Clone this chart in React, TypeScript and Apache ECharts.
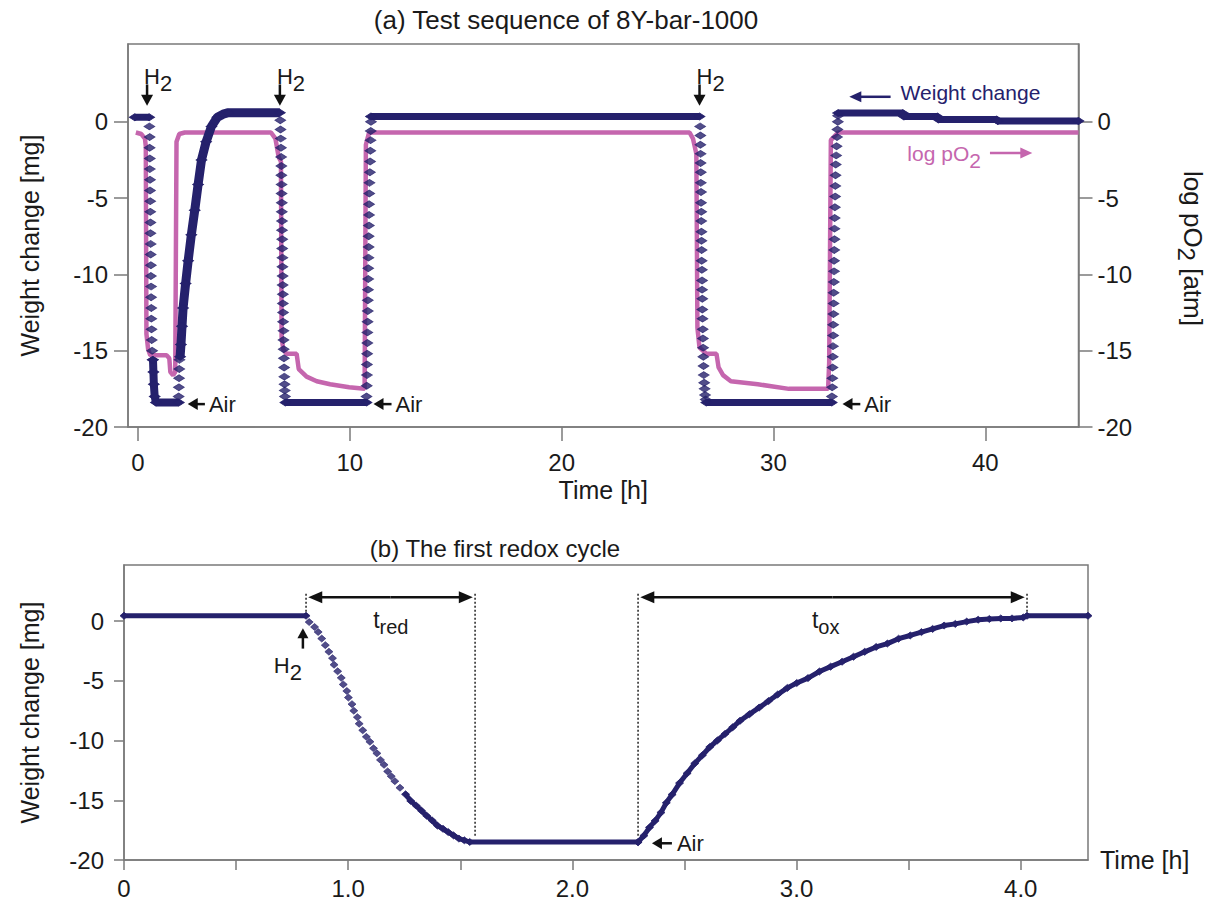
import React, { useEffect, useRef } from 'react';
import * as echarts from 'echarts';

const NAVY = '#25216c';
const PINK = '#c566ae';
const AXIS = '#7a7a7a';
const TXT = '#1a1a1a';
const FONT = '"Liberation Sans", Arial, sans-serif';

// ---------- (a) Test sequence ----------
const topXTicks = [0, 10, 20, 30, 40];
const weightTicks = [-20, -15, -10, -5, 0];

// weight change [mg] vs time [h] – dense parts (thick band)
const topWStart = [[-0.15, 0.3], [0.53, 0.3]];
const topWLow1 = [[0.71, -15.6], [0.73, -16.4], [0.75, -17.2], [0.79, -18.0], [0.85, -18.4], [1.93, -18.4]];
const topWRise1 = [[1.99, -15.4], [2.03, -14.6], [2.08, -13.4], [2.13, -12.2], [2.25, -10.6], [2.37, -9.1], [2.52, -7.4], [2.68, -5.8], [2.84, -4.1], [3.0, -2.5], [3.22, -1.3], [3.47, -0.3], [3.75, 0.3], [4.02, 0.5], [4.27, 0.6], [6.7, 0.6]];
const topWLow2 = [[6.96, -18.4], [10.79, -18.4]];
const topWMid = [[11.0, 0.35], [26.51, 0.35]];
const topWLow3 = [[26.83, -18.4], [32.75, -18.4]];
const topWEnd = [[33.05, 0.57], [36.11, 0.57], [36.16, 0.35], [37.74, 0.35], [37.79, 0.15], [40.53, 0.15], [40.59, 0.05], [44.4, 0.05]];

// weight change – separate diamonds in the fast steps
const topWDrop1 = [[0.54, -0.3], [0.55, -1.0], [0.55, -1.7], [0.56, -2.4], [0.56, -3.1], [0.57, -3.8], [0.57, -4.5], [0.58, -5.2], [0.58, -5.9], [0.59, -6.6], [0.59, -7.3], [0.6, -8.0], [0.6, -8.7], [0.61, -9.4], [0.61, -10.1], [0.62, -10.8], [0.62, -11.5], [0.63, -12.2], [0.63, -12.9], [0.64, -13.6], [0.65, -14.3], [0.67, -15.0], [0.69, -15.6]];
const topWRise1Dots = [[1.92, -18.0], [1.93, -17.4], [1.94, -16.8], [1.95, -16.2], [1.96, -15.6]];
const topWDrop2 = [[6.72, 0.1], [6.73, -0.5], [6.74, -1.1], [6.75, -1.7], [6.76, -2.3], [6.77, -2.9], [6.77, -3.5], [6.78, -4.1], [6.78, -4.7], [6.79, -5.3], [6.79, -5.9], [6.8, -6.5], [6.8, -7.1], [6.81, -7.7], [6.81, -8.3], [6.82, -8.9], [6.82, -9.5], [6.83, -10.1], [6.83, -10.7], [6.84, -11.3], [6.84, -11.9], [6.85, -12.5], [6.85, -13.1], [6.87, -13.7], [6.87, -14.3], [6.88, -14.9], [6.89, -15.5], [6.9, -16.1], [6.91, -16.7], [6.92, -17.2], [6.93, -17.6], [6.94, -18.0]];
const topWRise2 = [[10.79, -18.0], [10.8, -17.3], [10.81, -16.6], [10.81, -15.9], [10.82, -15.2], [10.83, -14.5], [10.83, -13.8], [10.84, -13.1], [10.85, -12.4], [10.85, -11.7], [10.86, -11.0], [10.87, -10.3], [10.87, -9.6], [10.88, -8.9], [10.89, -8.2], [10.89, -7.5], [10.9, -6.8], [10.91, -6.1], [10.91, -5.4], [10.92, -4.7], [10.93, -4.0], [10.95, -3.3], [10.96, -2.6], [10.97, -1.9], [10.98, -1.2], [10.99, -0.6], [11.0, 0.0]];
const topWDrop3 = [[26.54, -0.3], [26.55, -0.9], [26.55, -1.5], [26.56, -2.1], [26.56, -2.7], [26.57, -3.3], [26.57, -4.0], [26.58, -4.6], [26.58, -5.3], [26.59, -5.9], [26.59, -6.5], [26.6, -7.2], [26.6, -7.8], [26.61, -8.4], [26.61, -9.1], [26.62, -9.7], [26.63, -10.4], [26.63, -11.0], [26.64, -11.6], [26.64, -12.3], [26.65, -12.9], [26.66, -13.6], [26.67, -14.2], [26.68, -14.8], [26.69, -15.4], [26.7, -16.0], [26.71, -16.6], [26.73, -17.1], [26.75, -17.5], [26.77, -17.9], [26.8, -18.2]];
const topWRise3 = [[32.76, -18.0], [32.77, -17.4], [32.78, -16.8], [32.79, -16.1], [32.8, -15.4], [32.81, -14.7], [32.82, -14.0], [32.82, -13.3], [32.83, -12.6], [32.84, -11.9], [32.84, -11.2], [32.85, -10.5], [32.86, -9.8], [32.86, -9.1], [32.87, -8.4], [32.88, -7.7], [32.88, -7.0], [32.89, -6.3], [32.9, -5.6], [32.91, -4.9], [32.92, -4.2], [32.93, -3.5], [32.94, -2.8], [32.96, -2.2], [32.98, -1.6], [33.0, -1.0], [33.02, -0.5], [33.04, 0.0], [33.05, 0.4]];

// log pO2 [atm] vs time [h]
const topLogPO2 = [[-0.1, -0.7], [0.16, -0.8], [0.33, -1.1], [0.37, -1.6], [0.4, -13.9], [0.48, -14.9], [0.58, -15.3], [1.35, -15.3], [1.48, -15.5], [1.53, -16.4], [1.66, -16.6], [1.76, -16.4], [1.82, -1.3], [1.95, -0.8], [2.21, -0.7], [6.28, -0.7], [6.49, -1.1], [6.64, -2.3], [6.75, -2.6], [6.78, -14.1], [6.86, -14.9], [7.01, -15.2], [7.49, -15.2], [7.59, -16.2], [7.96, -16.7], [8.44, -17.0], [9.07, -17.2], [9.97, -17.4], [10.7, -17.5], [10.76, -1.5], [10.91, -0.7], [26.04, -0.7], [26.2, -1.1], [26.36, -2.1], [26.41, -13.5], [26.51, -14.8], [26.83, -15.2], [27.31, -15.2], [27.41, -16.1], [27.62, -16.6], [27.99, -17.0], [29.26, -17.2], [30.73, -17.5], [32.58, -17.5], [32.63, -15.8], [32.71, -1.2], [33.05, -0.7], [44.4, -0.7]];

// annotations (a), in data units
const topH2Times = [0.43, 6.7, 26.51];
const topAirArrows = [[2.35, 3.16], [11.12, 11.97], [33.26, 34.1]]; // head, tail
const weightLegendArrow = [33.58, 35.53, 1.64];
const logLegend = [36.32, 40.22, 42.22, -2.05];

// ---------- (b) The first redox cycle ----------
const botXLabelValues = [0, 1, 2, 3, 4];
const botXTickValues = [0, 0.5, 1, 1.5, 2, 2.5, 3, 3.5, 4];
const botWStart = [[0, 0.45], [0.812, 0.45]];
const botWRedDots = [[0.826, -0.08], [0.85, -0.49], [0.866, -0.91], [0.882, -1.46], [0.898, -2.01], [0.914, -2.56], [0.93, -3.1], [0.937, -3.65], [0.953, -4.2], [0.969, -4.75], [0.978, -5.3], [0.994, -5.85], [1.001, -6.4], [1.017, -6.95], [1.025, -7.5], [1.041, -8.04], [1.049, -8.59], [1.065, -9.14], [1.081, -9.69], [1.097, -10.1], [1.113, -10.65], [1.128, -11.07], [1.144, -11.62], [1.16, -12.03], [1.176, -12.58], [1.192, -12.99], [1.208, -13.4], [1.231, -13.95]];
const botWRedBand = [[1.256, -14.5], [1.279, -15.05], [1.304, -15.46], [1.327, -15.87], [1.35, -16.29], [1.375, -16.7], [1.398, -17.12], [1.423, -17.39], [1.446, -17.66], [1.47, -17.94], [1.494, -18.21], [1.518, -18.35], [1.542, -18.49], [2.293, -18.5]];
const botWOx = [[2.293, -18.51], [2.319, -17.96], [2.344, -17.27], [2.369, -16.72], [2.395, -16.03], [2.419, -15.21], [2.445, -14.52], [2.478, -13.56], [2.512, -12.74], [2.546, -11.91], [2.58, -11.23], [2.613, -10.54], [2.647, -9.99], [2.681, -9.44], [2.715, -8.89], [2.748, -8.34], [2.79, -7.79], [2.833, -7.24], [2.875, -6.69], [2.916, -6.14], [2.959, -5.59], [3.001, -5.18], [3.051, -4.77], [3.102, -4.22], [3.152, -3.81], [3.203, -3.4], [3.254, -2.98], [3.304, -2.57], [3.355, -2.16], [3.405, -1.88], [3.455, -1.47], [3.507, -1.2], [3.557, -0.92], [3.607, -0.65], [3.658, -0.37], [3.708, -0.23], [3.759, -0.04], [3.81, 0.12], [3.86, 0.18], [3.911, 0.23], [3.961, 0.23], [4.011, 0.31], [4.028, 0.45], [4.3, 0.45]];

// annotations (b)
const botDotted = [[0.812, 2.3, 0.6], [1.566, 2.3, -18.1], [2.293, 2.3, -18.1], [4.028, 2.3, 0.6]]; // t, top, bottom
const botSpans = [
  { from: 0.822, to: 1.556, w: 2.0, main: 't', sub: 'red', labelT: 1.19 },
  { from: 2.303, to: 4.018, w: 2.0, main: 't', sub: 'ox', labelT: 3.13 },
];
const botH2 = [0.798, -0.6, -2.3];
const botAir = [2.355, 2.444, -18.6];

const axisLine = { show: true, onZero: false, lineStyle: { color: AXIS, width: 1.5 } };
const tickStyle = { color: AXIS, width: 1.5 };
const labelStyle = { color: TXT, fontFamily: FONT, fontSize: 24 };
const nameStyle = { color: TXT, fontFamily: FONT, fontSize: 25 };

function dots(data: number[][], xi: number, yi: number, size: number[]) {
  return { type: 'scatter', xAxisIndex: xi, yAxisIndex: yi, data, symbol: 'diamond', symbolSize: size, itemStyle: { color: NAVY, borderColor: NAVY, borderWidth: 0.8 }, silent: true, z: 4 };
}
function band(data: number[][], xi: number, yi: number, size: number[], width: number) {
  return { type: 'line', xAxisIndex: xi, yAxisIndex: yi, data, symbol: 'diamond', symbolSize: size, showSymbol: true, showAllSymbol: true, lineStyle: { color: NAVY, width }, itemStyle: { color: NAVY, borderColor: NAVY, borderWidth: 0.8 }, silent: true, z: 4 };
}

function buildOption() {
  const topSz = [11, 7];
  const botSz = [8, 7];
  return {
    animation: false,
    backgroundColor: '#ffffff',
    grid: [
      { left: 128, top: 44, width: 954, height: 383, show: true, borderColor: AXIS, borderWidth: 1.5, backgroundColor: 'transparent' },
      { left: 124, top: 565, width: 964, height: 295, show: true, borderColor: AXIS, borderWidth: 1.5, backgroundColor: 'transparent' },
    ],
    xAxis: [
      {
        gridIndex: 0, type: 'value', min: -0.47, max: 44.4,
        axisLine, axisTick: { show: true, length: 14, customValues: topXTicks, lineStyle: tickStyle },
        axisLabel: { ...labelStyle, customValues: topXTicks, margin: 23 },
        splitLine: { show: false },
        name: 'Time [h]', nameLocation: 'middle', nameGap: 50, nameTextStyle: nameStyle,
      },
      {
        gridIndex: 1, type: 'value', min: 0, max: 4.3, interval: 0.5,
        axisLine, axisTick: { show: true, length: 10, customValues: botXTickValues, lineStyle: tickStyle },
        axisLabel: { ...labelStyle, customValues: botXLabelValues, margin: 16, formatter: (v: number) => (v === 0 ? '0' : v.toFixed(1)) },
        splitLine: { show: false },
        name: 'Time [h]', nameLocation: 'end', nameGap: 12, nameTextStyle: nameStyle,
      },
    ],
    yAxis: [
      {
        gridIndex: 0, type: 'value', min: -20, max: 5.1, position: 'left',
        axisLine, axisTick: { show: true, length: 14, customValues: weightTicks, lineStyle: tickStyle },
        axisLabel: { ...labelStyle, customValues: weightTicks, margin: 20 },
        splitLine: { show: false },
        name: 'Weight change [mg]', nameLocation: 'middle', nameGap: 86, nameRotate: 90,
        nameTextStyle: { ...nameStyle, padding: [0, 20, 0, 0] },
      },
      {
        gridIndex: 0, type: 'value', min: -20, max: 5.1, position: 'right',
        axisLine, axisTick: { show: true, length: 14, customValues: weightTicks, lineStyle: tickStyle },
        axisLabel: { ...labelStyle, customValues: weightTicks, margin: 19 },
        splitLine: { show: false },
        name: '{a|log pO}{s|2}{a| [atm]}', nameLocation: 'middle', nameGap: 96, nameRotate: -90,
        nameTextStyle: { ...nameStyle, padding: [0, 0, 0, 26], rich: { a: { fontFamily: FONT, fontSize: 26, color: TXT }, s: { fontFamily: FONT, fontSize: 24, color: TXT, padding: [13, 0, 0, 0] } } },
      },
      {
        gridIndex: 1, type: 'value', min: -20, max: 4.7, position: 'left',
        axisLine, axisTick: { show: true, length: 10, customValues: weightTicks, lineStyle: tickStyle },
        axisLabel: { ...labelStyle, customValues: weightTicks, margin: 20 },
        splitLine: { show: false },
        name: 'Weight change [mg]', nameLocation: 'middle', nameGap: 82, nameRotate: 90, nameTextStyle: nameStyle,
      },
    ],
    series: [
      { type: 'line', name: 'log pO2', xAxisIndex: 0, yAxisIndex: 1, data: topLogPO2, symbol: 'none', lineStyle: { color: PINK, width: 4.5 }, silent: true, z: 3 },
      band(topWStart, 0, 0, topSz, 7),
      dots(topWDrop1, 0, 0, topSz),
      band(topWLow1, 0, 0, topSz, 8),
      dots(topWRise1Dots, 0, 0, topSz),
      band(topWRise1, 0, 0, topSz, 9),
      dots(topWDrop2, 0, 0, topSz),
      band(topWLow2, 0, 0, topSz, 7),
      dots(topWRise2, 0, 0, topSz),
      band(topWMid, 0, 0, topSz, 7),
      dots(topWDrop3, 0, 0, topSz),
      band(topWLow3, 0, 0, topSz, 7),
      dots(topWRise3, 0, 0, topSz),
      band(topWEnd, 0, 0, topSz, 7),
      band(botWStart, 1, 2, botSz, 5),
      dots(botWRedDots, 1, 2, botSz),
      band(botWRedBand, 1, 2, botSz, 5),
      band(botWOx, 1, 2, botSz, 5),
    ],
  };
}

function arrowEls(x1: number, y1: number, x2: number, y2: number, color: string, head = 12, hw = 5.5, width = 2) {
  const dx = x2 - x1, dy = y2 - y1;
  const len = Math.hypot(dx, dy) || 1;
  const ux = dx / len, uy = dy / len;
  const bx = x2 - ux * head, by = y2 - uy * head;
  const nx = -uy, ny = ux;
  return [
    { type: 'line', shape: { x1, y1, x2: bx + ux, y2: by + uy }, style: { stroke: color, lineWidth: width }, silent: true, z: 10 },
    { type: 'polygon', shape: { points: [[x2, y2], [bx + nx * hw, by + ny * hw], [bx - nx * hw, by - ny * hw]] }, style: { fill: color }, silent: true, z: 10 },
  ];
}

function buildGraphic(chart: any) {
  const P0 = (t: number, w: number) => chart.convertToPixel({ xAxisIndex: 0, yAxisIndex: 0 }, [t, w]);
  const P1 = (t: number, w: number) => chart.convertToPixel({ xAxisIndex: 1, yAxisIndex: 2 }, [t, w]);
  const g: any[] = [];
  const txt = (x: number, y: number, text: string, opts: any = {}) => ({
    type: 'text', x, y, silent: true, z: 11,
    style: { text, fill: TXT, fontFamily: FONT, fontSize: 21, textAlign: 'left', textVerticalAlign: 'middle', ...opts },
  });
  const subRich = (size: number, sub: number, pad: number, color = TXT) => ({
    n: { fontFamily: FONT, fontSize: size, fill: color, color },
    s: { fontFamily: FONT, fontSize: sub, fill: color, color, padding: [pad, 0, 0, 0] },
  });

  // titles
  g.push(txt(566, 20, '(a) Test sequence of 8Y-bar-1000', { textAlign: 'center', fontSize: 26 }));
  g.push(txt(495, 548, '(b) The first redox cycle', { textAlign: 'center', fontSize: 24 }));

  // (a) H2 arrows
  topH2Times.forEach((t) => {
    const [x, yTail] = P0(t, 2.45);
    const [, yHead] = P0(t, 1.05);
    g.push(...arrowEls(x, yTail, x, yHead, '#111', 11, 6, 2.5));
    g.push(txt(x - 3, yTail - 8, '{n|H}{s|2}', { rich: subRich(22, 22, 14) }));
  });
  // (a) Air arrows
  topAirArrows.forEach(([head, tail]) => {
    const [xh, y] = P0(head, -18.5);
    const [xt] = P0(tail, -18.5);
    g.push(...arrowEls(xt, y, xh, y, '#111', 10, 6, 2.5));
    g.push(txt(xt + 4, y, 'Air', { fontSize: 22 }));
  });
  // (a) legend-like labels
  {
    const [xh, y] = P0(weightLegendArrow[0], weightLegendArrow[2]);
    const [xt] = P0(weightLegendArrow[1], weightLegendArrow[2]);
    g.push(...arrowEls(xt, y, xh, y, NAVY, 12, 5.5, 2.5));
    g.push(txt(xt + 10, y - 4, 'Weight change', { fill: NAVY, fontSize: 21 }));
  }
  {
    const [xText, y] = P0(logLegend[0], logLegend[3]);
    const [xa1] = P0(logLegend[1], logLegend[3]);
    const [xa2] = P0(logLegend[2], logLegend[3]);
    g.push(txt(xText, y, '{n|log pO}{s|2}', { rich: subRich(21, 21, 14, PINK), fill: PINK }));
    g.push(...arrowEls(xa1, y, xa2, y, PINK, 12, 5.5, 2.5));
  }

  // (b) dotted guides
  botDotted.forEach(([t, top, bottom]) => {
    const [x, y1] = P1(t, top);
    const [, y2] = P1(t, bottom);
    g.push({ type: 'line', shape: { x1: x, y1, x2: x, y2 }, style: { stroke: '#222', lineWidth: 1.5, lineDash: [2, 2] }, silent: true, z: 9 });
  });
  // (b) double arrows with labels
  botSpans.forEach((s) => {
    const [x1, y] = P1(s.from, s.w);
    const [x2] = P1(s.to, s.w);
    const mid = (x1 + x2) / 2;
    g.push(...arrowEls(mid, y, x1, y, '#111', 14, 6, 2.5));
    g.push(...arrowEls(mid, y, x2, y, '#111', 14, 6, 2.5));
    const [lx] = P1(s.labelT, s.w);
    g.push(txt(lx, y + 23, `{n|${s.main}}{s|${s.sub}}`, { textAlign: 'center', rich: subRich(23, 20, 14) }));
  });
  // (b) H2 up arrow
  {
    const [x, yHead] = P1(botH2[0], botH2[1]);
    const [, yTail] = P1(botH2[0], botH2[2]);
    g.push(...arrowEls(x, yTail, x, yHead, '#111', 10, 5.5, 2.5));
    g.push(txt(x - 1, yTail + 17, '{n|H}{s|2}', { textAlign: 'right', rich: subRich(22, 22, 14) }));
  }
  // (b) Air arrow
  {
    const [xh, y] = P1(botAir[0], botAir[2]);
    const [xt] = P1(botAir[1], botAir[2]);
    g.push(...arrowEls(xt, y, xh, y, '#111', 10, 6, 2.5));
    g.push(txt(xt + 5, y, 'Air', { fontSize: 22 }));
  }
  return g;
}

export default function App() {
  const ref = useRef<HTMLDivElement>(null);
  useEffect(() => {
    const chart = echarts.init(ref.current as HTMLDivElement, null, { renderer: 'svg' });
    chart.setOption(buildOption() as any);
    chart.setOption({ graphic: buildGraphic(chart) } as any);
    return () => chart.dispose();
  }, []);
  return <div ref={ref} style={{ position: 'absolute', left: 0, top: 0, width: 1214, height: 901, background: '#fff' }} />;
}
